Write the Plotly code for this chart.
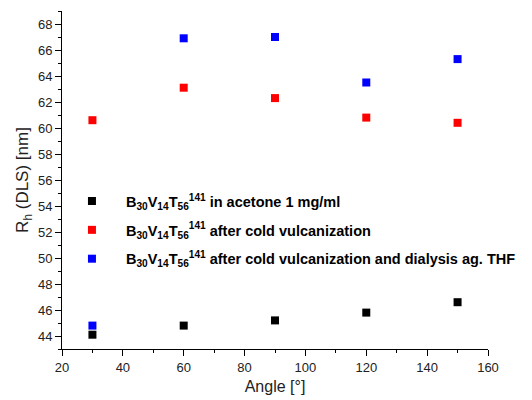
import plotly.graph_objects as go

angle = [30, 60, 90, 120, 150]
rh_acetone = [44.1, 44.8, 45.2, 45.8, 46.6]
rh_vulc = [60.6, 63.1, 62.3, 60.8, 60.4]
rh_dialysis = [44.8, 66.9, 67.0, 63.5, 65.3]

names = [
    "B<sub>30</sub>V<sub>14</sub>T<sub>56</sub><sup>141</sup> in acetone 1 mg/ml",
    "B<sub>30</sub>V<sub>14</sub>T<sub>56</sub><sup>141</sup> after cold vulcanization",
    "B<sub>30</sub>V<sub>14</sub>T<sub>56</sub><sup>141</sup> after cold vulcanization and dialysis ag. THF",
]
colors = ["#000000", "#FF0000", "#0000FF"]
series = [rh_acetone, rh_vulc, rh_dialysis]

FONT = "Liberation Sans, Arial, sans-serif"

fig = go.Figure()
for i, (n, c, s) in enumerate(zip(names, colors, series)):
    fig.add_trace(go.Scatter(x=angle, y=s, mode="markers", name=n, legendgroup=f"g{i}",
                             marker=dict(symbol="square", size=8, color=c, line=dict(width=0))))

axis_common = dict(showline=True, linecolor="black", linewidth=1, ticks="outside",
                   ticklen=6, tickwidth=1, tickcolor="black", showgrid=False, zeroline=False,
                   tickfont=dict(family=FONT, size=13, color="#222"),
                   mirror=False)
fig.update_xaxes(range=[20, 160], dtick=20, tick0=20,
                 minor=dict(dtick=10, ticks="outside", ticklen=3, tickwidth=1, tickcolor="black", showgrid=False),
                 title=dict(text="Angle [°]", font=dict(family=FONT, size=16, color="#222"), standoff=7),
                 **axis_common)
fig.update_yaxes(range=[43, 69], dtick=2, tick0=44,
                 minor=dict(dtick=1, ticks="outside", ticklen=3, tickwidth=1, tickcolor="black", showgrid=False),
                 title=dict(text="R<sub>h</sub> (DLS) [nm]", font=dict(family=FONT, size=17, color="#222"), standoff=4),
                 **axis_common)

fig.update_layout(
    width=532, height=392,
    margin=dict(l=54, r=52, t=3, b=51, autoexpand=False),
    plot_bgcolor="white", paper_bgcolor="white",
    legend=dict(x=-0.0095, y=0.485, xanchor="left", yanchor="top",
                bgcolor="rgba(0,0,0,0)", tracegroupgap=7, itemwidth=58,
                font=dict(family=FONT, size=14.5, color="black", weight="bold")),
    showlegend=True,
)
fig.write_html("out.html")
